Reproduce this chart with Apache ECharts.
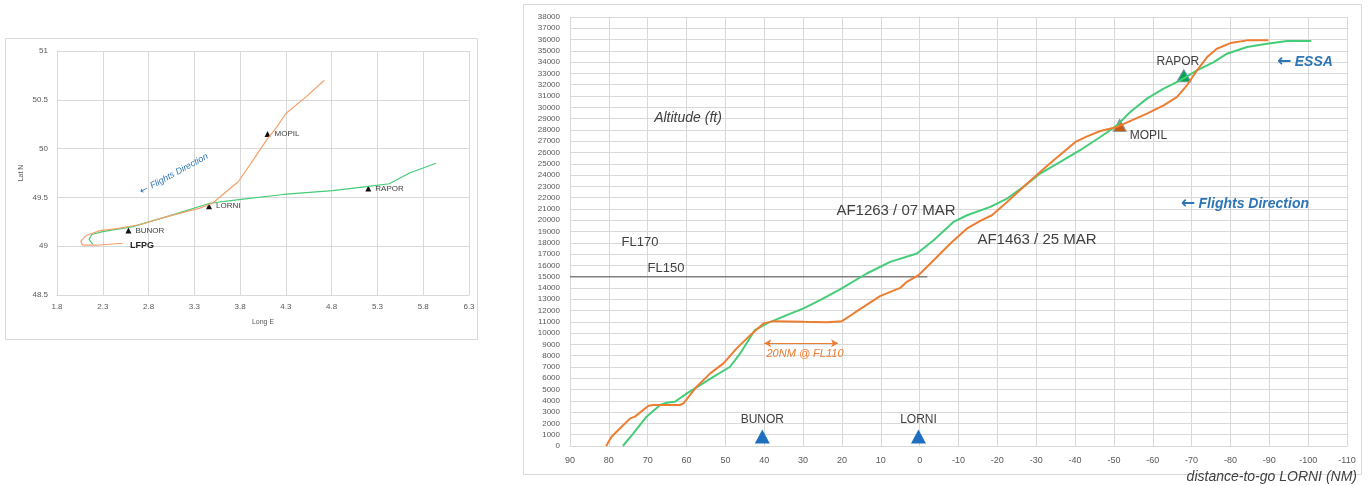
<!DOCTYPE html>
<html><head><meta charset="utf-8">
<script src="https://cdn.jsdelivr.net/npm/echarts@6/dist/echarts.min.js"></script>
<style>html,body{margin:0;padding:0;background:#fff}#c{width:1370px;height:486px}</style>
</head><body><div id="c"></div>
<script>
// ---------- Left chart: ground tracks (Long E / Lat N) ----------
const trackAF1463 = [[2.52,49.03],[2.23,49.01],[2.08,49.01],[2.06,49.05],[2.12,49.11],[2.27,49.16],[2.45,49.18],[2.70,49.22],[2.99,49.30],[3.36,49.39],[3.50,49.44],[3.65,49.56],[3.78,49.66],[3.94,49.88],[4.09,50.09],[4.20,50.22],[4.30,50.36],[4.52,50.53],[4.72,50.70]];
const trackAF1263 = [[2.19,49.02],[2.15,49.07],[2.18,49.12],[2.30,49.15],[2.63,49.20],[2.99,49.30],[3.47,49.44],[3.72,49.47],[4.27,49.53],[4.81,49.57],[5.18,49.61],[5.43,49.64],[5.65,49.75],[5.94,49.85]];
const mapWaypoints = [[4.10,50.15,'MOPIL'],[5.20,49.59,'RAPOR'],[3.46,49.41,'LORNI'],[2.58,49.16,'BUNOR']];

// ---------- Right chart: altitude vs distance-to-go LORNI ----------
const altAF1263 = [[76.4,0],[73.7,1120],[70.3,2600],[66.8,3630],[65.1,3830],[63.0,3920],[59.9,4660],[56.5,5400],[53.1,6130],[48.8,7020],[46.2,8200],[42.4,10270],[39.3,10860],[34.2,11590],[29.9,12190],[25.6,12920],[20.5,13870],[13.6,15280],[7.6,16310],[0.7,17050],[-3.6,18230],[-8.7,19850],[-12.2,20440],[-18.2,21180],[-22.5,21920],[-26.7,22950],[-31.0,24130],[-36.2,25160],[-41.3,26200],[-46.5,27370],[-50.8,28400],[-54.2,29590],[-58.5,30770],[-62.8,31650],[-67.1,32390],[-71.4,33270],[-75.7,34000],[-79.1,34750],[-84.3,35340],[-89.4,35640],[-94.6,35870],[-100.8,35870]];
const altAF1463 = [[80.7,0],[79.3,820],[77.1,1570],[74.5,2450],[73.3,2600],[69.8,3570],[68.5,3630],[61.7,3630],[60.8,3780],[57.4,5250],[53.9,6430],[50.5,7320],[47.1,8650],[43.6,9820],[40.2,10860],[37.6,11060],[29.9,11000],[23.9,10970],[20.0,11060],[17.0,11740],[10.2,13270],[5.0,14000],[3.3,14540],[0.3,15130],[-3.6,16460],[-7.9,17940],[-12.2,19270],[-15.6,19940],[-18.6,20440],[-22.5,21620],[-26.7,22950],[-31.0,24270],[-34.5,25310],[-40.1,26930],[-43.1,27430],[-46.5,27900],[-50.8,28260],[-58.5,29440],[-62.8,30180],[-66.2,30910],[-68.8,31950],[-71.4,33270],[-74.0,34450],[-76.5,35190],[-80.0,35690],[-84.3,35930],[-89.8,35930]];
const fl150Line = [[90,15000],[-2,15000]];
const blueWaypoints = [[40.5,850,'BUNOR'],[0.3,850,'LORNI']];
const mopilPoint = [[-51.5,28400,'MOPIL']];
const raporPoint = [[-68,32800,'RAPOR']];
const levelOffSpan = [[40,9100],[21,9100]];

const GC = '#d9d9d9';
const TXT = '#404040';
const BLUE = '#2e75b6';
const ORANGE = '#ed7d31';
const GREEN = '#45cc78';
const F = 'Liberation Sans, Arial, sans-serif';
const AR = 'DejaVu Sans, sans-serif';

function arrowText(x, y, txt, size, sizeArrow, color) {
  return {type: 'text', x: x, y: y, z: 100, style: {
    text: '{a|\u2190} {t|' + txt + '}', fill: color, align: 'center', verticalAlign: 'middle',
    rich: {
      a: {fontFamily: AR, fontSize: sizeArrow, fontWeight: 'bold', fill: color},
      t: {fontFamily: F, fontSize: size, fontWeight: 'bold', fontStyle: 'italic', fill: color}
    }}};
}

const chart = echarts.init(document.getElementById('c'));
chart.setOption({
  animation: false,
  textStyle: {fontFamily: F},
  grid: [
    {left: 57, top: 51, width: 412, height: 244},
    {left: 570, top: 17, width: 777, height: 429}
  ],
  xAxis: [
    {gridIndex: 0, type: 'value', min: 1.8, max: 6.3, interval: 0.5,
     name: 'Long E', nameLocation: 'middle', nameGap: 24, nameTextStyle: {fontSize: 7, color: '#595959'},
     axisLine: {show: true, lineStyle: {color: GC}}, axisTick: {show: false},
     axisLabel: {fontSize: 8, color: '#595959', margin: 8},
     splitLine: {show: true, lineStyle: {color: GC}}},
    {gridIndex: 1, type: 'value', min: -110, max: 90, interval: 10, inverse: true,
     axisLine: {show: true, lineStyle: {color: GC}}, axisTick: {show: false},
     axisLabel: {fontSize: 9, color: '#595959', margin: 10},
     splitLine: {show: true, lineStyle: {color: GC}}}
  ],
  yAxis: [
    {gridIndex: 0, type: 'value', min: 48.5, max: 51, interval: 0.5,
     name: 'Lat N', nameLocation: 'middle', nameGap: 32, nameRotate: 90, nameTextStyle: {fontSize: 7, color: '#595959'},
     axisLine: {show: true, lineStyle: {color: GC}}, axisTick: {show: false},
     axisLabel: {fontSize: 8, color: '#595959', margin: 9},
     splitLine: {show: true, lineStyle: {color: GC}}},
    {gridIndex: 1, type: 'value', min: 0, max: 38000, interval: 1000,
     axisLine: {show: true, lineStyle: {color: GC}}, axisTick: {show: false},
     axisLabel: {fontSize: 8, color: '#595959', margin: 10, formatter: v => String(v)},
     splitLine: {show: true, lineStyle: {color: GC}}}
  ],
  series: [
    {type: 'line', xAxisIndex: 0, yAxisIndex: 0, data: trackAF1263, showSymbol: false, lineStyle: {color: GREEN, width: 1.2}},
    {type: 'line', xAxisIndex: 0, yAxisIndex: 0, data: trackAF1463, showSymbol: false, lineStyle: {color: '#f4a06a', width: 1.2}},
    {type: 'scatter', xAxisIndex: 0, yAxisIndex: 0, data: mapWaypoints, symbol: 'triangle', symbolSize: 6,
     itemStyle: {color: '#111', opacity: 1},
     label: {show: true, position: 'right', distance: 4, formatter: p => p.data[2], fontSize: 8, color: TXT}},
    {type: 'line', xAxisIndex: 1, yAxisIndex: 1, data: fl150Line, showSymbol: false, lineStyle: {color: '#808080', width: 1.5}},
    {type: 'line', xAxisIndex: 1, yAxisIndex: 1, data: altAF1263, showSymbol: false, lineStyle: {color: GREEN, width: 2}},
    {type: 'line', xAxisIndex: 1, yAxisIndex: 1, data: altAF1463, showSymbol: false, lineStyle: {color: ORANGE, width: 2},
     markLine: {silent: true, symbol: ['arrow', 'arrow'], symbolSize: [6, 7],
       lineStyle: {color: ORANGE, width: 1, type: 'solid'}, label: {show: false},
       data: [[{coord: levelOffSpan[0]}, {coord: levelOffSpan[1]}]]}},
    {type: 'scatter', xAxisIndex: 1, yAxisIndex: 1, data: blueWaypoints, symbol: 'triangle', symbolSize: [15, 14],
     itemStyle: {color: '#1f6fc0', opacity: 1},
     label: {show: true, position: 'top', distance: 4, formatter: p => p.data[2], fontSize: 12, color: TXT}},
    {type: 'scatter', xAxisIndex: 1, yAxisIndex: 1, data: mopilPoint, symbol: 'triangle', symbolSize: [13, 12],
     itemStyle: {color: '#c55a11', borderColor: '#8096b0', borderWidth: 1, opacity: 1},
     label: {show: true, position: 'right', distance: 3, offset: [0, 10], formatter: p => p.data[2], fontSize: 12, color: TXT}},
    {type: 'scatter', xAxisIndex: 1, yAxisIndex: 1, data: raporPoint, symbol: 'triangle', symbolSize: [14, 12],
     itemStyle: {color: '#00a550', borderColor: '#6f8fb0', borderWidth: 1, opacity: 1},
     label: {show: true, position: 'top', distance: 2, offset: [-6, 0], formatter: p => p.data[2], fontSize: 12, color: TXT}}
  ],
  graphic: [
    {type: 'rect', silent: true, z: 100, shape: {x: 5.5, y: 38.5, width: 472, height: 301}, style: {fill: null, stroke: GC, lineWidth: 1}},
    {type: 'rect', silent: true, z: 100, shape: {x: 523.5, y: 4.5, width: 838, height: 470}, style: {fill: null, stroke: GC, lineWidth: 1}},
    {type: 'text', z: 100, x: 142, y: 246, style: {text: 'LFPG', font: 'bold 9px ' + F, fill: '#262626', align: 'center', verticalAlign: 'middle'}},
    {type: 'text', z: 100, x: 174, y: 174, rotation: 0.5, style: {
      text: '{a|\u2190} {t|Flights Direction}', fill: BLUE, align: 'center', verticalAlign: 'middle',
      rich: {a: {fontFamily: AR, fontSize: 10, fill: BLUE}, t: {fontFamily: F, fontSize: 9, fontStyle: 'italic', fill: BLUE}}}},
    {type: 'text', z: 100, x: 688, y: 118, style: {text: 'Altitude (ft)', font: 'italic 14px ' + F, fill: TXT, align: 'center', verticalAlign: 'middle'}},
    {type: 'text', z: 100, x: 896, y: 211, style: {text: 'AF1263 / 07 MAR', font: '15px ' + F, fill: TXT, align: 'center', verticalAlign: 'middle'}},
    {type: 'text', z: 100, x: 1037, y: 240, style: {text: 'AF1463 / 25 MAR', font: '15px ' + F, fill: TXT, align: 'center', verticalAlign: 'middle'}},
    {type: 'text', z: 100, x: 640, y: 242, style: {text: 'FL170', font: '13px ' + F, fill: TXT, align: 'center', verticalAlign: 'middle'}},
    {type: 'text', z: 100, x: 666, y: 268, style: {text: 'FL150', font: '13px ' + F, fill: TXT, align: 'center', verticalAlign: 'middle'}},
    {type: 'text', z: 100, x: 805, y: 354, style: {text: '20NM @ FL110', font: 'italic 11px ' + F, fill: ORANGE, align: 'center', verticalAlign: 'middle'}},
    arrowText(1305, 62, 'ESSA', 14, 17, BLUE),
    arrowText(1245, 204, 'Flights Direction', 14, 17, BLUE),
    {type: 'text', z: 100, x: 1357, y: 477, style: {text: 'distance-to-go LORNI (NM)', font: 'italic 14px ' + F, fill: TXT, align: 'right', verticalAlign: 'middle'}}
  ]
});
</script>
</body></html>
